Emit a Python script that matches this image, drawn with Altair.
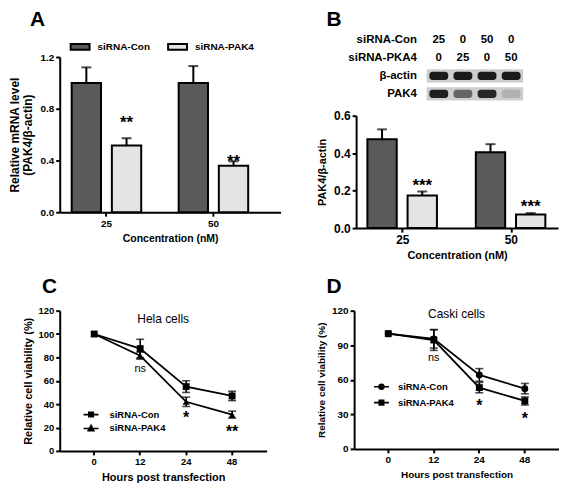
import altair as alt
import pandas as pd

FONT = "Liberation Sans"

# ---------------- data ----------------
conc = ["25", "50"]
groups = ["siRNA-Con", "siRNA-PAK4"]

# Panel A: relative mRNA level
a_con = [1.00, 1.00]
a_con_err = [0.12, 0.13]
a_pak = [0.515, 0.36]
a_pak_err = [0.057, 0.033]
a_sig = ["**", "**"]
a_sig_y = [0.725, 0.43]

# Panel B: PAK4/beta-actin
b_con = [0.474, 0.405]
b_con_err = [0.053, 0.043]
b_pak = [0.174, 0.073]
b_pak_err = [0.022, 0.007]
b_sig = ["***", "***"]
b_sig_y = [0.25, 0.14]

# Panel B: western blot
blot_rows = ["siRNA-Con", "siRNA-PKA4", "β-actin", "PAK4"]
lanes = ["L1", "L2", "L3", "L4"]
lane_con = ["25", "0", "50", "0"]
lane_pak = ["0", "25", "0", "50"]
actin_band = [0.95, 0.95, 0.95, 0.95]
pak4_band = [0.92, 0.55, 0.88, 0.15]

# Panels C / D: viability
hours = ["0", "12", "24", "48"]
c_title = "Hela cells"
c_title_y = 113
c_con = [100, 87.5, 55, 47]
c_con_err = [0, 8, 5, 4]
c_pak = [100, 81.5, 42, 31]
c_pak_err = [0, 3, 4, 3]
c_sig_hours = ["12", "24", "48"]
c_sig = ["ns", "*", "**"]
c_sig_y = [70, 32.5, 20.3]

d_title = "Caski cells"
d_title_y = 117
d_con = [100, 95.5, 64.2, 52.3]
d_con_err = [0, 8, 5.5, 4.5]
d_pak = [100, 94.5, 53.2, 41.6]
d_pak_err = [0, 9, 4.5, 3.5]
d_sig_hours = ["12", "24", "48"]
d_sig = ["ns", "*", "*"]
d_sig_y = [78.5, 41.6, 30]


def bar_layers(con, con_err, pak, pak_err, sig, sig_y, *, ymax, yticks, yrange,
               fills, xscale, off_pad, tick_fs, ytitle, ytitle_fs, xtitle_fs, legend,
               star_fs, ytitle_pad):
    df = pd.DataFrame({
        "conc": conc + conc,
        "group": [groups[0]] * len(conc) + [groups[1]] * len(conc),
        "value": con + pak,
        "upper": [v + e for v, e in zip(con, con_err)] + [v + e for v, e in zip(pak, pak_err)],
    })
    sig_df = pd.DataFrame({"conc": conc, "group": [groups[1]] * len(conc), "sig": sig, "sy": sig_y})
    x = alt.X("conc:N", scale=xscale,
              axis=alt.Axis(title="Concentration (nM)", labelAngle=0, labelFontSize=tick_fs,
                            titleFontSize=xtitle_fs, titlePadding=5))
    xo = alt.XOffset("group:N", scale=alt.Scale(domain=groups, paddingInner=off_pad, paddingOuter=0))
    ysc = alt.Scale(domain=[0, ymax], nice=False, range=yrange)
    yax = alt.Axis(values=yticks, format=".1f", title=ytitle, labelFontSize=tick_fs,
                   titleFontSize=ytitle_fs, titlePadding=ytitle_pad)

    def Y(f):
        return alt.Y(f, scale=ysc, axis=yax)

    bars = alt.Chart(df).mark_bar(stroke="black", strokeWidth=2).encode(
        x=x, xOffset=xo, y=Y("value:Q"),
        color=alt.Color("group:N", scale=alt.Scale(domain=groups, range=fills), legend=legend))
    err = alt.Chart(df).mark_rule(color="black", strokeWidth=2).encode(
        x=x, xOffset=xo, y=Y("value:Q"), y2="upper:Q")
    cap = alt.Chart(df).mark_tick(color="black", thickness=2, size=10).encode(
        x=x, xOffset=xo, y=Y("upper:Q"))
    stars = alt.Chart(sig_df).mark_text(fontSize=star_fs, fontWeight="bold", baseline="middle",
                                        dy=5, color="black").encode(
        x=x, xOffset=xo, y=Y("sy:Q"), text="sig:N")
    return alt.layer(bars, err, cap, stars)


def line_panel(con, con_err, pak, pak_err, sig_hours, sig, sig_y, title, title_y, *, shapes,
               legend_paths, width, height, yticks, tick_fs, ytitle_fs, xtitle_fs, leg_x, leg_y,
               leg_fs, leg_off, leg_rowpad):
    df = pd.DataFrame({
        "hour": hours + hours,
        "group": [groups[0]] * len(hours) + [groups[1]] * len(hours),
        "value": con + pak,
        "lo": [v - e for v, e in zip(con, con_err)] + [v - e for v, e in zip(pak, pak_err)],
        "hi": [v + e for v, e in zip(con, con_err)] + [v + e for v, e in zip(pak, pak_err)],
    })
    sig_df = pd.DataFrame({"hour": sig_hours, "sig": sig, "sy": sig_y})
    title_df = pd.DataFrame({"t": [title], "tx": [0.5], "ty": [title_y]})
    x = alt.X("hour:N", scale=alt.Scale(domain=hours, padding=0.5),
              axis=alt.Axis(title="Hours post transfection", labelAngle=0, labelFontSize=tick_fs,
                            titleFontSize=xtitle_fs, titlePadding=5))
    ysc = alt.Scale(domain=[0, 120], nice=False)
    yax = alt.Axis(values=yticks, title="Relative cell viability (%)", labelFontSize=tick_fs,
                   titleFontSize=ytitle_fs, titlePadding=5)

    def Y(f):
        return alt.Y(f, scale=ysc, axis=yax)

    line = alt.Chart(df).mark_line(color="black", strokeWidth=1.8).encode(
        x=x, y=Y("value:Q"), detail="group:N")
    errdf = alt.Chart(df).transform_filter("datum.hi > datum.lo")
    rule = errdf.mark_rule(color="black", strokeWidth=1.6).encode(x=x, y=Y("lo:Q"), y2="hi:Q")
    cap_lo = errdf.mark_tick(color="black", thickness=1.6, size=8).encode(x=x, y=Y("lo:Q"))
    cap_hi = errdf.mark_tick(color="black", thickness=1.6, size=8).encode(x=x, y=Y("hi:Q"))
    pts = alt.Chart(df).mark_point(filled=True, opacity=1, color="black", size=48).encode(
        x=x, y=Y("value:Q"),
        shape=alt.Shape("group:N", scale=alt.Scale(domain=groups, range=shapes), legend=None))
    leg = alt.Chart(df).transform_filter("false").mark_point(
        filled=False, opacity=1, color="black", strokeWidth=1.6, size=225).encode(
        shape=alt.Shape("group:N", scale=alt.Scale(domain=groups, range=legend_paths),
                        legend=alt.Legend(orient="none", legendX=leg_x, legendY=leg_y, title=None,
                                          labelFontSize=leg_fs, labelFontWeight="bold",
                                          labelOffset=leg_off, rowPadding=leg_rowpad, padding=0,
                                          symbolSize=225, symbolStrokeWidth=1.6,
                                          symbolStrokeColor="black")))
    ns = alt.Chart(sig_df).transform_filter("datum.sig == 'ns'").mark_text(
        fontSize=11, fontWeight="normal", baseline="middle", color="black").encode(
        x=x, y=Y("sy:Q"), text="sig:N")
    st = alt.Chart(sig_df).transform_filter("datum.sig != 'ns'").mark_text(
        fontSize=16, fontWeight="bold", baseline="middle", dy=5, color="black").encode(
        x=x, y=Y("sy:Q"), text="sig:N")
    main = alt.layer(line, rule, cap_lo, cap_hi, pts, leg, ns, st).resolve_scale(shape="independent")
    ttl = alt.Chart(title_df).mark_text(fontSize=12, fontWeight="normal", baseline="middle",
                                        color="black").encode(
        x=alt.X("tx:Q", scale=alt.Scale(domain=[0, 1]), axis=None), y=Y("ty:Q"), text="t:N")
    return alt.layer(main, ttl).resolve_scale(x="independent").properties(width=width, height=height)


rect_path = "M-1,-0.3H1V0.3H-1Z"
# legend glyphs: a horizontal line plus a solid marker built from close strokes
sq_path = "M-1,0H1M-0.3,-0.3H0.3V0.3H-0.3ZM-0.3,-0.15H0.3M-0.3,0.15H0.3"
tri_path = "M-1,0H1M0,-0.42L0.38,0.3H-0.38ZM-0.14,-0.15H0.14M-0.22,0H0.22M-0.3,0.15H0.3"
circ_path = ("M-1,0H1M-0.32,0A0.32,0.32,0,1,1,0.32,0A0.32,0.32,0,1,1,-0.32,0Z"
             "M-0.25,-0.18H0.25M-0.3,-0.09H0.3M-0.3,0.09H0.3M-0.25,0.18H0.25")

# Both top panels share a view that starts at the top of the blot; each plot
# occupies the lower part of its view.
# ---------------- Panel A ----------------
A_H = 182
chartA = bar_layers(
    a_con, a_con_err, a_pak, a_pak_err, a_sig, a_sig_y,
    ymax=1.2, yticks=[0, 0.4, 0.8, 1.2], yrange=[A_H, 26],
    fills=["#5a5a5a", "#e4e4e4"],
    xscale=alt.Scale(domain=conc, paddingInner=0.35, paddingOuter=0.207, align=0.27),
    off_pad=0.27, tick_fs=10, ytitle=["Relative mRNA level", "(PAK4/β-actin)"],
    ytitle_fs=12, xtitle_fs=10.5, star_fs=17, ytitle_pad=5,
    legend=alt.Legend(orient="none", legendX=10, legendY=5, direction="horizontal", title=None,
                      symbolType=rect_path, symbolSize=361, symbolStrokeColor="black",
                      symbolStrokeWidth=2, labelFontSize=10, labelFontWeight="bold",
                      columnPadding=14, labelOffset=7, padding=0)).properties(width=222, height=A_H)
panelA = alt.vconcat(chartA, title=alt.TitleParams("A", anchor="start", fontSize=21,
                                                   fontWeight="bold", dx=22, offset=1))

# ---------------- Panel B ----------------
B_W = 203
B_H = 198
blot_text_df = pd.DataFrame({"row": [blot_rows[0]] * 4 + [blot_rows[1]] * 4,
                             "lane": lanes * 2, "val": lane_con + lane_pak})
blot_band_df = pd.DataFrame({"row": [blot_rows[2]] * 4 + [blot_rows[3]] * 4,
                             "lane": lanes * 2, "intensity": actin_band + pak4_band})
blot_label_df = pd.DataFrame({"row": blot_rows, "lane": [lanes[0]] * 4})
bx = alt.X("lane:N", scale=alt.Scale(domain=lanes, range=[71, 168], paddingInner=0, paddingOuter=0),
           axis=None)
by = alt.Y("row:N", scale=alt.Scale(domain=blot_rows, range=[0, 72], paddingInner=0,
                                    paddingOuter=0), axis=None)
strip = alt.Chart(blot_band_df).mark_rect(color="#cdcdcd", height={"band": 0.74}).encode(x=bx, y=by)
band = alt.Chart(blot_band_df).mark_rect(color="#111111", width={"band": 0.78},
                                         height={"band": 0.46}, cornerRadius=3).encode(
    x=bx, y=by, opacity=alt.Opacity("intensity:Q", scale=None, legend=None))
btxt = alt.Chart(blot_text_df).mark_text(fontSize=11.5, fontWeight="bold", color="black").encode(
    x=bx, y=by, text="val:N")
blab = alt.Chart(blot_label_df).mark_text(fontSize=11.5, fontWeight="bold", color="black",
                                          align="right", dx=-22).encode(
    x=bx, y=by, text="row:N")
blot = alt.layer(strip, band, btxt, blab)

barsB = bar_layers(
    b_con, b_con_err, b_pak, b_pak_err, b_sig, b_sig_y,
    ymax=0.6, yticks=[0, 0.2, 0.4, 0.6], yrange=[B_H, 85],
    fills=["#535353", "#e8e8e8"],
    xscale=alt.Scale(domain=conc, paddingInner=0.346, paddingOuter=0.104, align=0.5),
    off_pad=0.27, tick_fs=12, ytitle="PAK4/β-actin",
    ytitle_fs=11, xtitle_fs=11, star_fs=17, ytitle_pad=6,
    legend=alt.Legend(orient="none", legendX=9, legendY=81, direction="horizontal", title=None,
                      symbolType=rect_path, symbolSize=289, symbolStrokeColor="black",
                      symbolStrokeWidth=2, labelFontSize=10, labelFontWeight="bold",
                      columnPadding=28, labelOffset=8, padding=0))
chartB = alt.layer(barsB, blot).resolve_scale(x="independent", y="independent").properties(
    width=B_W, height=B_H)
panelB = alt.vconcat(chartB, title=alt.TitleParams("B", anchor="start", fontSize=21,
                                                   fontWeight="bold", dx=10, offset=1))

# ---------------- Panel C ----------------
chartC = line_panel(
    c_con, c_con_err, c_pak, c_pak_err, c_sig_hours, c_sig, c_sig_y, c_title, c_title_y,
    shapes=["square", "triangle-up"], legend_paths=[sq_path, tri_path],
    width=208, height=141, yticks=[0, 20, 40, 60, 80, 100, 120],
    tick_fs=9.5, ytitle_fs=11, xtitle_fs=11, leg_x=23, leg_y=96, leg_fs=9.5, leg_off=10,
    leg_rowpad=0)
panelC = alt.vconcat(chartC, title=alt.TitleParams("C", anchor="start", fontSize=21,
                                                   fontWeight="bold", dx=20, offset=9))

# ---------------- Panel D ----------------
chartD = line_panel(
    d_con, d_con_err, d_pak, d_pak_err, d_sig_hours, d_sig, d_sig_y, d_title, d_title_y,
    shapes=["circle", "square"], legend_paths=[circ_path, sq_path],
    width=206, height=139, yticks=[0, 30, 60, 90, 120],
    tick_fs=10, ytitle_fs=10, xtitle_fs=10, leg_x=19, leg_y=68, leg_fs=9.5, leg_off=8,
    leg_rowpad=1)
panelD = alt.vconcat(chartD, title=alt.TitleParams("D", anchor="start", fontSize=21,
                                                   fontWeight="bold", dx=10, offset=9))

top = alt.hconcat(panelA, panelB, spacing=36)
bottom = alt.hconcat(panelC, panelD, spacing=50)

chart = alt.vconcat(top, bottom, spacing=15).properties(padding=0).configure_view(
    stroke=None
).configure_axis(
    domainColor="black", domainWidth=2, tickColor="black", tickWidth=2, tickSize=4,
    labelPadding=2, labelColor="black", titleColor="black", grid=False,
    labelFont=FONT, titleFont=FONT, labelFontWeight="bold", titleFontWeight="bold"
).configure_legend(
    labelFont=FONT, labelColor="black"
).configure_title(
    font=FONT, color="black"
).configure_text(
    font=FONT, color="black"
)

chart.save("out.html", embed_options={"renderer": "svg", "actions": False})
